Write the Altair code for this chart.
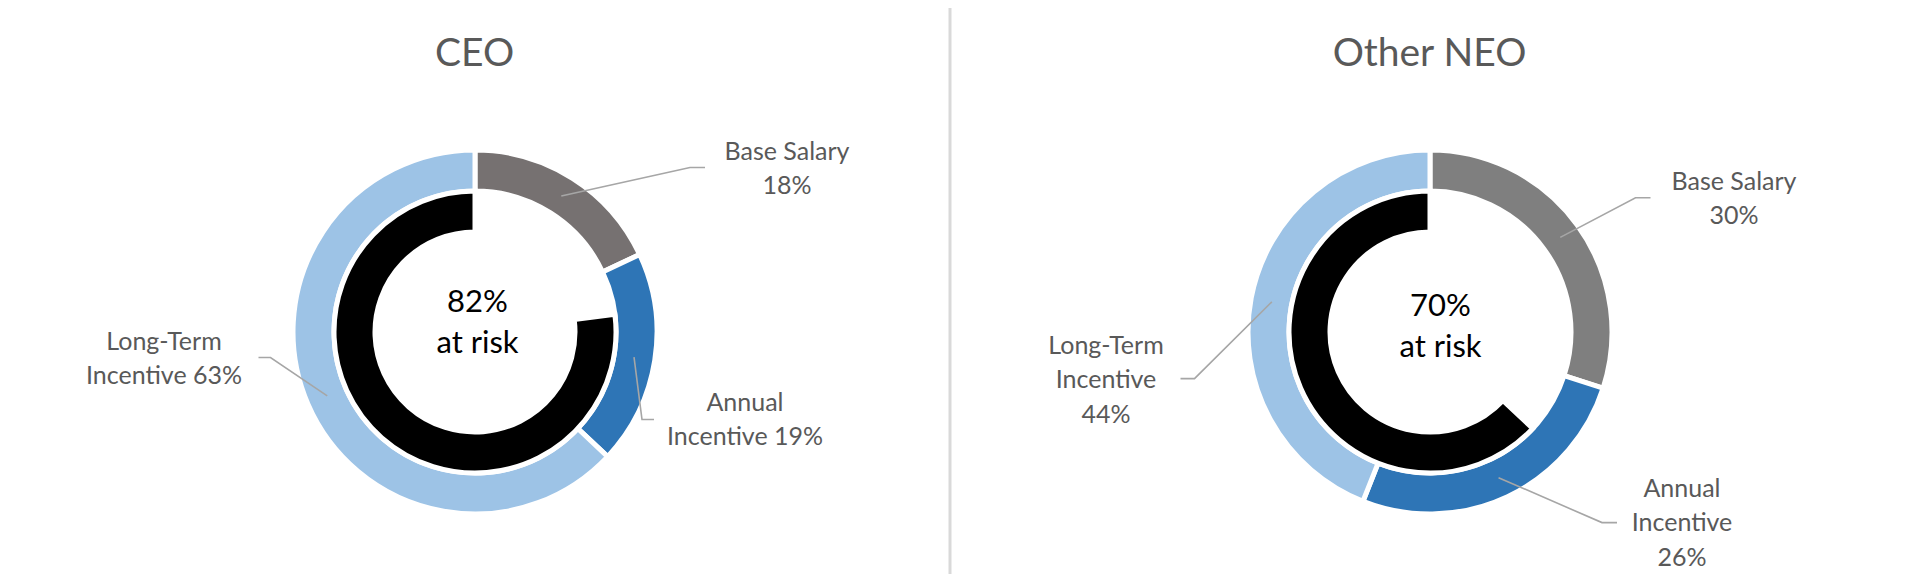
import math
import altair as alt
import pandas as pd

# ---------------- data ----------------
panels = ["CEO", "Other NEO"]
components = ["Base Salary", "Annual Incentive", "Long-Term Incentive"]
ceo_pay_mix = [18, 19, 63]
neo_pay_mix = [30, 26, 44]
at_risk_pct = [82, 70]
# inner ring as drawn in the picture (blank part, black part)
inner_blank = [23, 37]
inner_black = [77, 63]

# ---------------- style / layout ----------------
OFF = 8  # page margin of the html page
W, H = 1892, 566
base_colors = ["#767171", "#7F7F7F"]
annual_color = "#2E75B6"
lt_color = "#9DC3E6"
label_color = "#595959"
leader_color = "#A6A6A6"
FONT = "Lato"
LABEL_SIZE, LABEL_LH = 25, 34.5
CENTER_SIZE, CENTER_LH = 31, 41
TITLE_SIZE = 39

centers = [(475, 332), (1430, 332)]
R_OUT, R_MID, R_IN = 182, 141, 100
R_LEADER = 161

# label block centre (dx, dy from donut centre), leader start/elbow dx and dy
label_layout = {
    ("CEO", "Base Salary"): dict(lx=312, ly=-163, sx=230, ex=215, ey=-164.5),
    ("CEO", "Annual Incentive"): dict(lx=270, ly=88, sx=179, ex=167, ey=87.5),
    ("CEO", "Long-Term Incentive"): dict(lx=-311, ly=27, sx=-216.5, ex=-204.5, ey=25.5),
    ("Other NEO", "Base Salary"): dict(lx=304, ly=-133, sx=220.5, ex=205.5, ey=-134.2),
    ("Other NEO", "Annual Incentive"): dict(lx=252, ly=191, sx=187, ex=172, ey=190.6),
    ("Other NEO", "Long-Term Incentive"): dict(lx=-324, ly=48, sx=-249.5, ex=-235.5, ey=46.6),
}


def label_text(panel, comp, v):
    if comp == "Base Salary":
        return f"Base Salary\n{v}%"
    first = "Annual" if comp == "Annual Incentive" else "Long-Term"
    if panel == "CEO":
        return f"{first}\nIncentive {v}%"
    return f"{first}\nIncentive\n{v}%"


def first_line_y(y_mid, text, lh):
    n = text.count("\n") + 1
    return y_mid - (n - 1) / 2 * lh


outer_rows, inner_rows, label_rows, leader_rows, title_rows, center_rows = [], [], [], [], [], []
for i, (panel, vals) in enumerate(zip(panels, [ceo_pay_mix, neo_pay_mix])):
    cx, cy = centers[i]
    total = sum(vals)
    acc = 0.0
    cols = [base_colors[i], annual_color, lt_color]
    for comp, v, col in zip(components, vals, cols):
        t0 = acc / total * 2 * math.pi
        acc += v
        t1 = acc / total * 2 * math.pi
        outer_rows.append(dict(panel=panel, comp=comp, value=v, t0=t0, t1=t1,
                               cx=cx - OFF, cy=cy - OFF, color=col))
        mid = (t0 + t1) / 2
        px = cx + R_LEADER * math.sin(mid)
        py = cy - R_LEADER * math.cos(mid)
        lay = label_layout[(panel, comp)]
        txt = label_text(panel, comp, v)
        label_rows.append(dict(panel=panel, comp=comp,
                               x=cx + lay["lx"] - OFF,
                               y=first_line_y(cy + lay["ly"], txt, LABEL_LH) - OFF,
                               text=txt))
        key = f"{panel}-{comp}"
        leader_rows += [
            dict(key=key, o=0, x=cx + lay["sx"] - OFF, y=cy + lay["ey"] - OFF),
            dict(key=key, o=1, x=cx + lay["ex"] - OFF, y=cy + lay["ey"] - OFF),
            dict(key=key, o=2, x=px - OFF, y=py - OFF),
        ]
    itot = inner_blank[i] + inner_black[i]
    inner_rows.append(dict(panel=panel, t0=inner_blank[i] / itot * 2 * math.pi,
                           t1=2 * math.pi, cx=cx - OFF, cy=cy - OFF))
    title_rows.append(dict(text=panel, x=cx - 0.5 - OFF, y=54 - OFF))
    ctxt = f"{at_risk_pct[i]}%\nat risk"
    center_rows.append(dict(text=ctxt,
                            x=cx + (2.5 if i == 0 else 10.5) - OFF,
                            y=first_line_y(cy - 9 + 4 * i, ctxt, CENTER_LH) - OFF))

outer_df = pd.DataFrame(outer_rows)
inner_df = pd.DataFrame(inner_rows)
label_df = pd.DataFrame(label_rows)
leader_df = pd.DataFrame(leader_rows)
title_df = pd.DataFrame(title_rows)
center_df = pd.DataFrame(center_rows)
divider_df = pd.DataFrame([dict(x=950 - OFF, y=0, y2=H)])

X = lambda f: alt.X(f, scale=None, axis=None)
Y = lambda f: alt.Y(f, scale=None, axis=None)

outer = alt.Chart(outer_df).mark_arc(
    radius=R_OUT, radius2=R_MID, stroke="white", strokeWidth=5
).encode(
    x=X("cx:Q"), y=Y("cy:Q"),
    theta=alt.Theta("t0:Q", scale=None, stack=None),
    theta2="t1:Q",
    color=alt.Color("color:N", scale=None),
)

inner = alt.Chart(inner_df).mark_arc(
    radius=R_MID, radius2=R_IN, stroke="white", strokeWidth=5, color="#000000"
).encode(
    x=X("cx:Q"), y=Y("cy:Q"),
    theta=alt.Theta("t0:Q", scale=None, stack=None),
    theta2="t1:Q",
)

leaders = alt.Chart(leader_df).mark_line(
    color=leader_color, strokeWidth=1.6
).encode(
    x=X("x:Q"), y=Y("y:Q"), detail="key:N", order="o:Q"
)

labels = alt.Chart(label_df).mark_text(
    font=FONT, fontSize=LABEL_SIZE, color=label_color, lineBreak="\n",
    lineHeight=LABEL_LH, align="center", baseline="middle"
).encode(x=X("x:Q"), y=Y("y:Q"), text="text:N")

titles = alt.Chart(title_df).mark_text(
    font=FONT, fontSize=TITLE_SIZE, color=label_color, align="center", baseline="middle"
).encode(x=X("x:Q"), y=Y("y:Q"), text="text:N")

centers_txt = alt.Chart(center_df).mark_text(
    font=FONT, fontSize=CENTER_SIZE, color="#000000", lineBreak="\n",
    lineHeight=CENTER_LH, align="center", baseline="middle"
).encode(x=X("x:Q"), y=Y("y:Q"), text="text:N")

divider = alt.Chart(divider_df).mark_rule(color="#D9D9D9", strokeWidth=3).encode(
    x=X("x:Q"), y=Y("y:Q"), y2="y2:Q"
)

chart = alt.layer(
    divider, outer, inner, leaders, labels, titles, centers_txt
).properties(
    width=W, height=H, padding=0, autosize="none", background="white"
).configure_view(stroke=None)

chart.save("out.html", embed_options={"renderer": "svg", "actions": False})
